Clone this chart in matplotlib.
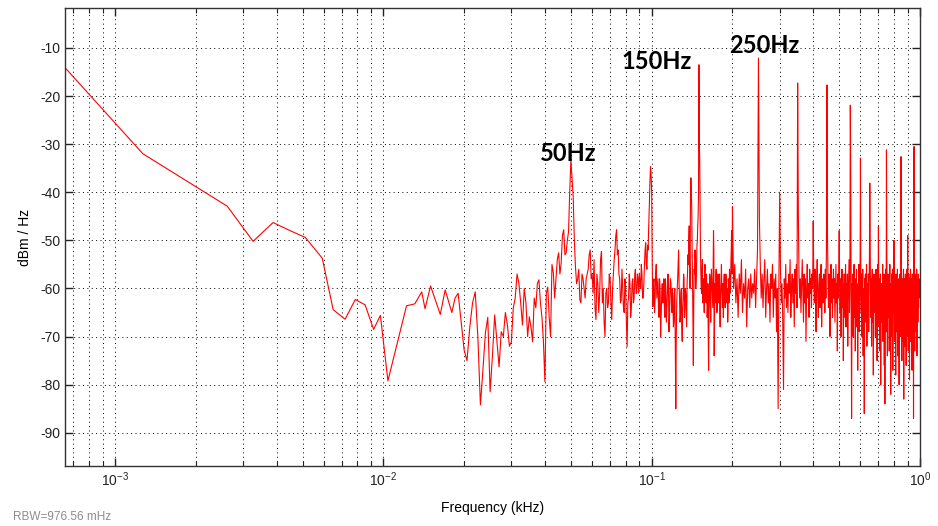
import matplotlib
matplotlib.use('Agg')
import matplotlib.pyplot as plt
from matplotlib.ticker import NullFormatter, LogLocator, FixedLocator
import numpy as np

# spectrum below 18 Hz (smoothed part), frequency in Hz
low_freq_hz = [0.651, 1.27, 2.62, 3.27, 3.88, 4.5, 5.12, 5.92, 6.5, 7.2, 7.86,
               8.55, 9.2, 9.75, 10.4, 12.2, 13.1, 13.9, 14.3, 15.0, 16.3, 17.0]
low_db = [-14.1, -32.0, -42.9, -50.2, -46.3, -48.0, -49.4, -53.7, -64.4, -66.4, -62.3,
          -63.4, -68.5, -65.6, -79.2, -63.6, -63.2, -60.7, -64.2, -59.5, -65.4, -60.3]

# 18 .. 199 Hz, whole-Hz bins
mid_db = [
    -65, -61, -72.8, -68, -60.7, -84.2, -69.3, -81.5, -65.5, -76.3,
    -70, -67.6, -71.1, -62, -58.9, -67.6, -63, -65.9, -71.1, -64,
    -58.2, -66, -79.4, -59.7, -70, -56.7, -58, -52.6, -54.7, -47.8,
    -52.6, -48.2, -33.3, -41, -55.5, -58, -62.4, -57, -60, -58,
    -56, -52, -57, -54, -66.5, -59, -61, -52.3, -60, -70,
    -60, -63, -58, -66.5, -57, -52, -47.8, -52, -58, -62.4,
    -60, -65, -60, -72.1, -62, -59, -64, -58, -62, -56,
    -61, -58, -56.8, -60, -57, -62, -55, -50.5, -56, -52,
    -43, -34.7, -40, -63.8, -58, -62, -55, -60, -64, -58,
    -70, -61, -63, -58, -66, -60, -64, -57, -69, -61,
    -59, -65, -62, -67, -60, -85, -63, -58, -52, -62,
    -66, -60, -71, -62, -58, -64, -61, -68, -57, -55,
    -47, -60, -37, -43, -58, -76, -56, -52, -60, -55,
    -50, -45, -13.5, -33, -52, -60, -56, -63, -58, -65,
    -55, -61, -57, -66, -59, -77, -62, -58, -67, -56,
    -60, -64, -48, -74, -59, -62, -56, -65, -60, -58,
    -63, -57, -68, -60, -55, -62, -59, -66, -58, -61,
    -64, -57, -62, -60, -67, -58, -63, -56, -61, -59,
    -52, -57,
]

# 18.5 .. 199.5 Hz, half-Hz bins in between
mid_half_db = [
    -62, -67, -75, -63, -70, -77, -66, -74, -71, -69,
    -65, -72, -64, -57, -63, -60, -70, -68, -62, -59,
    -63, -71, -61, -66, -55, -62, -54, -57, -49, -53,
    -50, -40, -37, -50, -59, -56, -63, -58, -62, -57,
    -53, -58, -61, -64, -57, -65, -54, -63, -67, -61,
    -64, -57, -63, -60, -54, -49, -53, -57, -63, -56,
    -64, -58, -67, -63, -57, -66, -59, -63, -57, -61,
    -57, -61, -59, -55, -62, -59, -52, -55, -51, -47,
    -38, -36, -55, -59, -65, -57, -62, -58, -66, -60,
    -66, -59, -62, -64, -58, -67, -61, -59, -66, -58,
    -63, -60, -68, -61, -74, -70, -60, -55, -59, -67,
    -61, -68, -64, -57, -66, -60, -65, -59, -53, -50,
    -55, -42, -40, -52, -68, -63, -57, -54, -58, -51,
    -47, -40, -30, -44, -57, -61, -54, -62, -60, -57,
    -59, -63, -60, -64, -70, -65, -57, -63, -60, -58,
    -62, -55, -52, -67, -63, -57, -60, -64, -57, -62,
    -59, -65, -62, -58, -60, -64, -61, -63, -57, -62,
    -60, -58, -63, -61, -65, -59, -62, -58, -60, -54,
    -48, -54,
]

# 200 .. 1000 Hz, 2 Hz bins
high_db = [
    -43, -60, -55, -63, -58, -66, -57, -61, -54, -65, -59, -62, -56, -68, -60, -58, -64, -57, -62, -59,
    -61, -56, -64, -58, -52, -12.1, -45, -55, -62, -57, -64, -58, -54, -66, -60, -56, -63, -59, -67, -57,
    -60, -55, -66, -58, -62, -57, -69, -60, -85, -58, -40, -56, -63, -59, -67, -81, -58, -62, -55, -64,
    -59, -65, -57, -61, -54, -66, -60, -57, -63, -58, -68, -56, -61, -55, -64, -17.3, -44, -57, -62, -58,
    -65, -59, -54, -61, -67, -57, -63, -58, -71, -60, -55, -62, -59, -66, -56, -61, -58, -64, -57, -60,
    -46, -58, -63, -56, -61, -69, -58, -54, -62, -66, -59, -57, -64, -60, -55, -68, -61, -58, -63, -57,
    -60, -65, -56, -62, -52, -17.7, -48, -58, -64, -57, -61, -70, -59, -55, -63, -58, -66, -60, -56, -62,
    -58, -67, -61, -55, -63, -59, -73, -57, -62, -56, -48, -60, -65, -58, -70, -61, -56, -64, -59, -75,
    -60, -57, -66, -61, -55, -68, -59, -63, -57, -72, -62, -58, -54, -65, -60, -21.9, -38, -62, -87, -59,
    -64, -57, -70, -60, -55, -66, -61, -73, -58, -63, -56, -68, -60, -77, -59, -62, -55, -69, -61, -58,
    -32.9, -60, -65, -57, -70, -61, -56, -74, -60, -64, -86, -58, -63, -57, -67, -60, -55, -72, -62, -59,
    -64, -57, -69, -60, -53, -38.1, -50, -61, -66, -58, -72, -60, -56, -67, -59, -78, -61, -57, -65, -62,
    -58, -70, -61, -56, -66, -59, -75, -60, -55, -64, -47, -62, -68, -58, -73, -61, -57, -80, -60, -63,
    -59, -67, -62, -55, -71, -60, -64, -57, -76, -61, -84, -58, -63, -56, -69, -31.2, -52, -60, -74, -61,
    -57, -66, -62, -58, -73, -60, -55, -68, -61, -82, -59, -64, -57, -70, -62, -56, -77, -60, -65, -58,
    -50, -61, -71, -58, -64, -60, -78, -57, -63, -59, -69, -61, -56, -74, -62, -58, -66, -60, -80, -59,
    -63, -57, -70, -61, -55, -32.6, -53, -62, -75, -59, -65, -58, -71, -61, -56, -83, -60, -64, -58, -72,
    -61, -57, -67, -60, -76, -58, -63, -56, -70, -61, -49, -59, -73, -62, -57, -68, -60, -79, -58, -64,
    -60, -56, -71, -62, -58, -66, -60, -77, -57, -64, -59, -70, -61, -87, -58, -30.5, -54, -62, -73, -60,
    -57, -65, -61, -69, -58, -63, -56, -74, -60, -62, -58, -67, -61, -57, -64, -59, -62, -58, -61, -60,
    -59,
]

mid_freq_hz = np.arange(18, 200)
mid_half_freq_hz = np.arange(18, 200) + 0.5
high_freq_hz = np.arange(200, 1001, 2)

freq_hz = np.concatenate([np.array(low_freq_hz), mid_freq_hz, mid_half_freq_hz, high_freq_hz])
psd_db = np.concatenate([low_db, mid_db, mid_half_db, high_db])
order = np.argsort(freq_hz)
freq_khz = freq_hz[order] / 1000.0
psd_db = psd_db[order]

harmonic_labels = ['50Hz', '150Hz', '250Hz']
label_pos = [(0.049, -32.0), (0.1045, -12.9), (0.264, -9.4)]
yticks = [-90, -80, -70, -60, -50, -40, -30, -20, -10]

plt.rcParams['font.family'] = ['Liberation Sans', 'DejaVu Sans']
plt.rcParams['axes.unicode_minus'] = False

fig = plt.figure(figsize=(9.38, 5.26), dpi=100)
ax = fig.add_axes([0.0693, 0.1141, 0.9115, 0.8707])

ax.plot(freq_khz, psd_db, color='red', lw=0.8)
ax.set_xscale('log')
ax.set_xlim(6.51e-4, 1.0)
ax.set_ylim(-96.9, -1.7)

ax.yaxis.set_major_locator(FixedLocator(yticks))
ax.xaxis.set_minor_locator(LogLocator(base=10, subs=np.arange(2, 10)))
ax.xaxis.set_minor_formatter(NullFormatter())

grid_style = dict(color='black', linestyle=(0, (1, 3.5)), linewidth=0.7)
ax.grid(True, which='major', axis='both', **grid_style)
ax.grid(True, which='minor', axis='x', **grid_style)

ax.tick_params(which='both', direction='in', top=True, right=True,
               labelsize=10, colors='#222222')
ax.tick_params(which='major', length=6, width=1)
ax.tick_params(which='minor', length=3.5, width=0.8)
for s in ax.spines.values():
    s.set_color('#333333')
    s.set_linewidth(1.0)

ax.set_xlabel('Frequency (kHz)', fontsize=10, labelpad=8)
ax.set_ylabel('dBm / Hz', fontsize=10, labelpad=6)

for txt, (fx, fy) in zip(harmonic_labels, label_pos):
    ax.text(fx, fy, txt, ha='center', va='center', fontsize=17,
            fontweight='bold', family=['Lato', 'DejaVu Sans'], color='black')

fig.text(13 / 938, 1 - 517 / 526, 'RBW=976.56 mHz', fontsize=8.5,
         color='#8c8c8c', va='center', ha='left')

fig.savefig('out.png', dpi=100)
